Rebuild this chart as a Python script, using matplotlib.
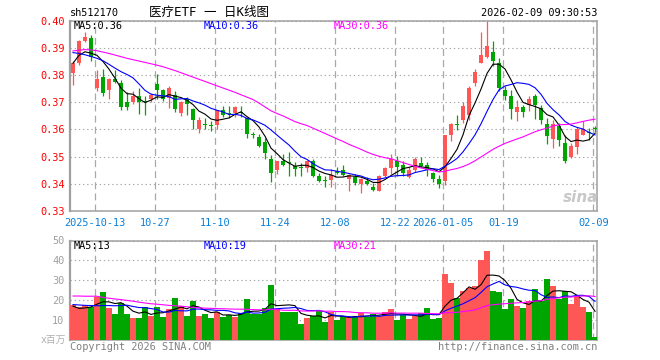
import pandas as pd
import matplotlib
matplotlib.use('Agg')
import matplotlib.pyplot as plt

plt.rcParams['lines.scale_dashes'] = False
MONO = ['DejaVu Sans Mono', 'Noto Sans CJK SC']

# daily K-line, sh512170, 2025-09-29 .. 2026-02-09
opens = [0.3806, 0.3845, 0.3925, 0.3934, 0.3753, 0.3793, 0.3743, 0.3784, 0.3771, 0.3702,
         0.3702, 0.3722, 0.3704, 0.3713, 0.3765, 0.3743, 0.3716, 0.3725, 0.3661, 0.3713,
         0.3673, 0.3603, 0.3620, 0.3616, 0.3617, 0.3672, 0.3659, 0.3660, 0.3662, 0.3641,
         0.3583, 0.3573, 0.3552, 0.3490, 0.3451, 0.3485, 0.3478, 0.3466, 0.3461, 0.3457,
         0.3482, 0.3429, 0.3412, 0.3414, 0.3448, 0.3450, 0.3417, 0.3425, 0.3399, 0.3410,
         0.3389, 0.3375, 0.3429, 0.3457, 0.3482, 0.3469, 0.3426, 0.3451, 0.3478, 0.3469,
         0.3439, 0.3418, 0.3410, 0.3580, 0.3620, 0.3635, 0.3654, 0.3772, 0.3845, 0.3866,
         0.3885, 0.3844, 0.3743, 0.3724, 0.3662, 0.3682, 0.3690, 0.3724, 0.3678, 0.3620,
         0.3563, 0.3613, 0.3549, 0.3500, 0.3535, 0.3580, 0.3588, 0.3602]
highs = [0.3850, 0.3928, 0.3956, 0.3945, 0.3817, 0.3821, 0.3790, 0.3817, 0.3780, 0.3737,
         0.3740, 0.3753, 0.3722, 0.3735, 0.3805, 0.3750, 0.3760, 0.3740, 0.3705, 0.3720,
         0.3680, 0.3645, 0.3643, 0.3630, 0.3672, 0.3687, 0.3687, 0.3687, 0.3687, 0.3645,
         0.3590, 0.3583, 0.3570, 0.3505, 0.3485, 0.3508, 0.3515, 0.3480, 0.3475, 0.3487,
         0.3490, 0.3440, 0.3430, 0.3454, 0.3460, 0.3470, 0.3436, 0.3435, 0.3420, 0.3425,
         0.3402, 0.3432, 0.3462, 0.3510, 0.3502, 0.3485, 0.3460, 0.3500, 0.3500, 0.3480,
         0.3445, 0.3432, 0.3580, 0.3625, 0.3654, 0.3700, 0.3760, 0.3823, 0.3957, 0.3997,
         0.3926, 0.3863, 0.3758, 0.3743, 0.3709, 0.3690, 0.3722, 0.3731, 0.3690, 0.3641,
         0.3635, 0.3625, 0.3580, 0.3550, 0.3608, 0.3629, 0.3605, 0.3612]
lows = [0.3763, 0.3838, 0.3920, 0.3850, 0.3741, 0.3722, 0.3710, 0.3770, 0.3670, 0.3670,
        0.3695, 0.3658, 0.3653, 0.3700, 0.3710, 0.3705, 0.3680, 0.3664, 0.3650, 0.3653,
        0.3600, 0.3587, 0.3603, 0.3593, 0.3603, 0.3645, 0.3640, 0.3645, 0.3645, 0.3570,
        0.3570, 0.3535, 0.3490, 0.3408, 0.3436, 0.3465, 0.3430, 0.3430, 0.3430, 0.3445,
        0.3425, 0.3405, 0.3387, 0.3389, 0.3435, 0.3428, 0.3375, 0.3395, 0.3367, 0.3395,
        0.3372, 0.3372, 0.3425, 0.3436, 0.3430, 0.3430, 0.3420, 0.3445, 0.3462, 0.3430,
        0.3405, 0.3383, 0.3396, 0.3559, 0.3598, 0.3624, 0.3635, 0.3760, 0.3845, 0.3863,
        0.3832, 0.3740, 0.3709, 0.3639, 0.3629, 0.3645, 0.3667, 0.3639, 0.3620, 0.3547,
        0.3531, 0.3540, 0.3478, 0.3495, 0.3510, 0.3578, 0.3560, 0.3590]
closes = [0.3845, 0.3925, 0.3940, 0.3866, 0.3784, 0.3732, 0.3784, 0.3774, 0.3683, 0.3683,
          0.3722, 0.3702, 0.3702, 0.3728, 0.3743, 0.3713, 0.3753, 0.3673, 0.3702, 0.3694,
          0.3633, 0.3633, 0.3617, 0.3613, 0.3670, 0.3653, 0.3657, 0.3682, 0.3660, 0.3582,
          0.3580, 0.3540, 0.3512, 0.3441, 0.3482, 0.3469, 0.3476, 0.3453, 0.3459, 0.3482,
          0.3429, 0.3410, 0.3410, 0.3432, 0.3440, 0.3432, 0.3432, 0.3402, 0.3417, 0.3398,
          0.3377, 0.3429, 0.3457, 0.3490, 0.3463, 0.3441, 0.3451, 0.3490, 0.3466, 0.3450,
          0.3417, 0.3399, 0.3580, 0.3620, 0.3617, 0.3684, 0.3752, 0.3812, 0.3875, 0.3905,
          0.3853, 0.3752, 0.3724, 0.3675, 0.3682, 0.3662, 0.3711, 0.3690, 0.3633, 0.3574,
          0.3620, 0.3561, 0.3482, 0.3539, 0.3601, 0.3601, 0.3586, 0.3600]
# volume, millions
volumes = [17.75, 16.6, 17.4, 16.6, 21.6, 23.9, 16.25, 13.25, 18.75, 12.9,
           11.25, 11.25, 16.6, 12.25, 16.6, 11.75, 15.75, 21.25, 17.25, 12.25,
           19.75, 12.25, 13.25, 11.25, 14.25, 11.75, 12.75, 11.75, 13.75, 20.75,
           13.25, 13.25, 16.25, 27.75, 15.75, 14.25, 14.25, 14.25, 8.25, 11.25,
           12.25, 14.5, 9.25, 14.3, 9.9, 11.9, 11.4, 11.6, 13.6, 11.6,
           13.25, 12.25, 13.9, 15.75, 10.25, 12.75, 10.75, 12.25, 13.6, 16.25,
           10.75, 11.1, 33.25, 28.6, 21.1, 24.4, 26.1, 27.25, 40.25, 44.75,
           24.75, 23.9, 15.75, 20.75, 16.9, 16.1, 19.75, 25.75, 19.4, 30.75,
           27.25, 20.6, 24.4, 18.25, 21.9, 16.6, 13.9, 1.3]

# moving averages on the first days of the window (their history lies before the chart)
ma5_head = [0.3843, 0.3872, 0.3885, 0.3880]
ma10_head = [0.3882, 0.3879, 0.3874, 0.3868, 0.3861, 0.3852, 0.3839, 0.3825, 0.3812]
ma30_head = [0.3888, 0.3891, 0.3893, 0.3892, 0.3889, 0.3884, 0.3879, 0.3873, 0.3867, 0.3861,
             0.3856, 0.3851, 0.3846, 0.3841, 0.3836, 0.3830, 0.3823, 0.3816, 0.3808, 0.3800,
             0.3792, 0.3784, 0.3776, 0.3768, 0.3760, 0.3752, 0.3744, 0.3736, 0.3727]
vma5_head = [17.0, 15.9, 16.1, 16.6]
vma10_head = [17.8, 17.6, 17.4, 17.3, 17.2, 17.3, 17.3, 17.2, 17.3]
vma30_head = [22.1, 22.1, 22.0, 22.0, 22.0, 21.4, 21.0, 20.6, 20.3, 19.9,
              19.5, 19.0, 18.6, 18.2, 18.0, 17.7, 17.4, 17.2, 17.0, 16.7,
              16.4, 16.2, 16.0, 15.9, 15.8, 15.7, 15.6, 15.5, 15.5]

holidays = ['2025-10-01', '2025-10-02', '2025-10-03', '2025-10-06', '2025-10-07',
            '2025-10-08', '2026-01-01', '2026-01-02']
tick_dates = ['2025-10-13', '2025-10-27', '2025-11-10', '2025-11-24', '2025-12-08',
              '2025-12-22', '2026-01-05', '2026-01-19', '2026-02-09']
tick_labels = ['2025-10-13', '10-27', '11-10', '11-24', '12-08',
               '12-22', '2026-01-05', '01-19', '02-09']
price_labels = ['MA5:0.36', 'MA10:0.36', 'MA30:0.36']
volume_labels = ['MA5:13', 'MA10:19', 'MA30:21']

RED = '#ff5656'
GREEN = '#00a600'
MA_COLORS = ['black', '#0000ff', '#ff00ff']


def moving_avg(values, n, head):
    s = pd.Series(values).rolling(n).mean()
    s.iloc[:len(head)] = head
    return s


dates = pd.bdate_range('2025-09-29', '2026-02-09', freq='C', holidays=holidays)
tick_idx = [dates.get_loc(pd.Timestamp(d)) for d in tick_dates]
x = list(range(len(closes)))
up = [c > o for o, c in zip(opens, closes)]
colors = [RED if u else GREEN for u in up]

fig = plt.figure(figsize=(6.6, 3.6), dpi=100)
W, H = 660, 360
ax = fig.add_axes([70 / W, 1 - 211 / H, 527 / W, 190.5 / H])
axv = fig.add_axes([70 / W, 1 - 340 / H, 527 / W, 99.5 / H])

for a in (ax, axv):
    a.set_xlim(-0.5, 87.33)
    for s in a.spines.values():
        s.set_color('#a0a0a0')
        s.set_linewidth(1.1)
    a.spines['left'].set_linewidth(1.6)
    a.set_axisbelow(True)
    a.xaxis.grid(True, color='#a8a8a8', linewidth=0.9, linestyle=(0, (5, 3)))
    a.yaxis.grid(True, color='#a8a8a8', linewidth=0.8, linestyle=(0, (1, 2)))
    a.tick_params(length=0)
    a.set_xticks([i - 0.3 for i in tick_idx])

# candles
body_h = [max(abs(c - o), 0.0004) for o, c in zip(opens, closes)]
body_b = [min(o, c) for o, c in zip(opens, closes)]
ax.vlines(x, lows, highs, colors=colors, linewidth=0.9, zorder=2)
ax.bar(x, body_h, bottom=body_b, width=0.82, color=colors, zorder=3)

for n, head, col in zip([5, 10, 30], [ma5_head, ma10_head, ma30_head], MA_COLORS):
    ax.plot(x, moving_avg(closes, n, head), color=col, linewidth=0.8, zorder=4)

ax.set_ylim(0.33, 0.40)
ax.set_yticks([0.33, 0.34, 0.35, 0.36, 0.37, 0.38, 0.39, 0.40])
ax.set_yticklabels([f'{v:.2f}' for v in ax.get_yticks()], color='#ff0000',
                   family=MONO, fontsize=7.4)
ax.tick_params(axis='y', pad=4)
ax.set_xticklabels(tick_labels, color='#0a7fd6', family=MONO, fontsize=7.4)
ax.tick_params(axis='x', pad=5)

# volume
axv.bar(x, volumes, width=0.84, color=colors, zorder=3)
for n, head, col in zip([5, 10, 30], [vma5_head, vma10_head, vma30_head], MA_COLORS):
    axv.plot(x, moving_avg(volumes, n, head), color=col, linewidth=0.8, zorder=4)
axv.set_ylim(0, 50)
axv.set_yticks([10, 20, 30, 40, 50])
axv.set_yticklabels(['10', '20', '30', '40', '50'], color='#a0a0a0',
                    family=MONO, fontsize=7.4)
axv.tick_params(axis='y', pad=4)
axv.set_xticklabels([])

# legends inside panels
for a, labels, y in ((ax, price_labels, 26), (axv, volume_labels, 246)):
    for lab, col, px in zip(labels, MA_COLORS, [74, 204, 334]):
        fig.text(px / W, 1 - y / H, lab, color=col, family=MONO, fontsize=7.4, va='center')

# header and footer
fig.text(70 / W, 1 - 13.5 / H, 'sh512170', family=MONO, fontsize=7.4, va='center')
fig.text(209 / W, 1 - 12.5 / H, '医疗ETF 一 日K线图', family=MONO, fontsize=9,
         va='center', ha='center')
fig.text(597 / W, 1 - 12.5 / H, '2026-02-09 09:30:53', family=MONO, fontsize=7.4,
         va='center', ha='right')
fig.text(66 / W, 1 - 340 / H, 'x百万', family=MONO, fontsize=7, color='#b0b0b0',
         va='center', ha='right')
fig.text(70 / W, 1 - 347 / H, 'Copyright 2026 SINA.COM', family=MONO, fontsize=7.4,
         color='#808080', va='center')
fig.text(597 / W, 1 - 347 / H, 'http://finance.sina.com.cn', family=MONO, fontsize=7.4,
         color='#808080', va='center', ha='right')
fig.text(581 / W, 1 - 197 / H, 'sina', fontsize=11, fontweight='bold', style='italic',
         color='#c8c8c8', va='center', ha='center')

fig.savefig('out.png', dpi=100)
